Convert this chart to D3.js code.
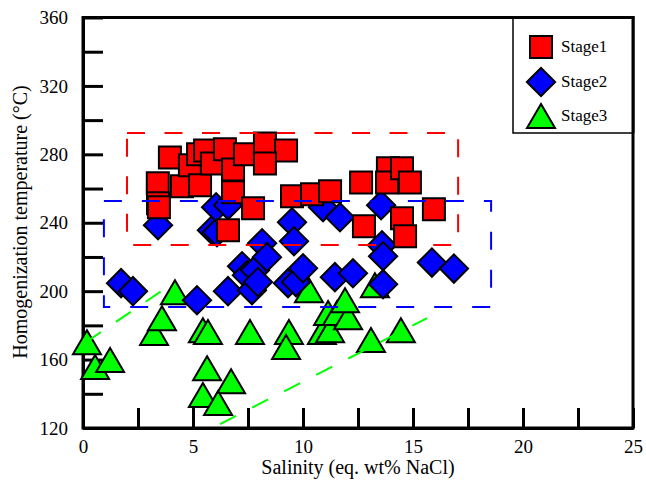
<!DOCTYPE html>
<html>
<head>
<meta charset="utf-8">
<script src="https://cdn.jsdelivr.net/npm/d3@7"></script>
<style>
  body { margin: 0; background: #fff; }
  svg text { font-family: "Times New Roman", "Liberation Serif", "DejaVu Serif", serif !important; fill: #000; }
</style>
</head>
<body>
<svg width="646" height="484"></svg>
<script>
// salinity (x) and homogenization temperature (y) for each stage
var stage1X = [3.40, 3.41, 3.45, 3.95, 4.50, 4.86, 5.23, 5.32, 5.55, 5.86, 6.45, 6.82, 6.82, 7.36, 7.73, 6.59,
               8.27, 9.23, 8.27, 9.50, 10.41, 11.23, 12.64, 13.86, 13.82, 14.50, 14.86, 15.95, 14.50, 14.64, 12.77];
var stage1Y = [263.1, 251.4, 249.0, 278.2, 261.3, 273.6, 280.0, 261.9, 282.2, 274.7, 282.9, 271.2, 257.8, 280.0, 248.5, 235.6,
               286.4, 282.3, 274.7, 255.5, 256.6, 258.4, 263.6, 271.8, 263.6, 271.8, 263.6, 247.9, 242.6, 232.1, 238.0];

var stage2X = [1.73, 2.27, 3.41, 5.18, 5.86, 6.09, 6.05, 6.59, 6.59, 7.23, 7.45, 7.82, 8.14, 7.68, 7.95, 8.36,
               9.50, 9.59, 9.32, 9.68, 10.00, 10.91, 11.68, 11.45, 12.27, 13.55, 13.59, 13.64, 13.64, 15.86, 16.86];
var stage2Y = [204.7, 200.0, 238.5, 194.7, 235.6, 234.5, 249.1, 250.3, 200.0, 214.6, 209.3, 212.3, 228.0, 200.6, 205.3, 219.9,
               240.3, 229.2, 204.7, 205.3, 213.4, 249.1, 243.2, 208.2, 210.5, 250.2, 226.8, 220.4, 204.1, 216.7, 213.2];

var stage3X = [0.18, 0.55, 1.23, 3.23, 3.59, 4.18, 5.45, 5.68, 7.59, 5.64, 6.73, 5.45, 6.14, 9.36, 9.23, 10.27,
               10.86, 11.23, 11.14, 11.55, 12.05, 11.91, 13.27, 13.09, 14.45];
var stage3Y = [170.2, 155.6, 159.7, 175.5, 184.2, 199.4, 177.2, 176.1, 176.1, 155.0, 147.4, 139.3, 134.6, 176.1, 167.3, 200.6,
               176.1, 177.2, 187.2, 187.2, 184.8, 194.7, 203.5, 171.4, 177.2];

// dashed fields
var box1 = [2.0, 17.05, 227, 292.5];     // x0, x1, y0, y1
var box2 = [0.95, 18.55, 190.8, 252.7];
var green1 = [[0.14, 170.2], [3.82, 202.3]];
var green2 = [[6.23, 122.3], [15.64, 184.2]];

var xTicks = [0, 2.5, 5, 7.5, 10, 12.5, 15, 17.5, 20, 22.5, 25];
var yTicks = [120, 140, 160, 180, 200, 220, 240, 260, 280, 300, 320, 340, 360];
var legendNames = ["Stage1", "Stage2", "Stage3"];

var serif = '"Times New Roman", "Liberation Serif", "DejaVu Serif", serif';
var svg = d3.select("svg");

var xScale = d3.scaleLinear().domain([0, 25]).range([83, 633]);
var yScale = d3.scaleLinear().domain([120, 360]).range([428, 17.5]);

// frame
svg.append("rect")
  .attr("x", 83).attr("y", 17.5)
  .attr("width", 550).attr("height", 410.5)
  .attr("fill", "none").attr("stroke", "#000").attr("stroke-width", 3);

// axes, ticks point inward
var xAxis = d3.axisBottom(xScale)
  .tickValues(xTicks)
  .tickSizeInner(-20).tickSizeOuter(0).tickPadding(12)
  .tickFormat(d => d % 5 == 0 ? d : "");
svg.append("g")
  .attr("transform", "translate(0,428)")
  .call(xAxis)
  .attr("font-family", serif)
  .call(g => g.select(".domain").attr("stroke-width", 3))
  .call(g => g.selectAll(".tick line").attr("stroke-width", 3))
  .call(g => g.selectAll("text").style("font-size", "19px"));

var yAxis = d3.axisLeft(yScale)
  .tickValues(yTicks)
  .tickSizeInner(-20).tickSizeOuter(0).tickPadding(15)
  .tickFormat(d => d % 40 == 0 ? d : "");
svg.append("g")
  .attr("transform", "translate(83,0)")
  .call(yAxis)
  .attr("font-family", serif)
  .call(g => g.select(".domain").attr("stroke-width", 3))
  .call(g => g.selectAll(".tick line").attr("stroke-width", 3))
  .call(g => g.selectAll("text").style("font-size", "19px"));

// axis titles
svg.append("text")
  .attr("x", 358).attr("y", 474)
  .attr("text-anchor", "middle")
  .attr("font-family", serif)
  .style("font-size", "20px")
  .text("Salinity (eq. wt% NaCl)");

svg.append("text")
  .attr("transform", "translate(27,222) rotate(-90)")
  .attr("text-anchor", "middle")
  .attr("font-family", serif)
  .style("font-size", "20px")
  .text("Homogenization temperature (°C)");

// marker shapes
var square = d3.symbol(d3.symbolSquare, 22 * 22)();
var diamond = d3.symbol(d3.symbolSquare, 20 * 20)();
var triangle = "M0,-12L14,12L-14,12Z";

function drawSeries(xs, ys, path, fill, rot) {
  svg.append("g")
    .selectAll("path")
    .data(xs.map((x, i) => ({ x: x, y: ys[i] })))
    .enter()
    .append("path")
    .attr("d", path)
    .attr("transform", d => `translate(${xScale(d.x)},${yScale(d.y)}) rotate(${rot})`)
    .attr("fill", fill)
    .attr("stroke", "#000")
    .attr("stroke-width", 2);
}

drawSeries(stage3X, stage3Y, triangle, "#00ff00", 0);
drawSeries(stage2X, stage2Y, diamond, "#0000ff", 45);
drawSeries(stage1X, stage1Y, square, "#ff0000", 0);

// dashed boxes and lines on top
function dashBox(b, color, dash) {
  svg.append("rect")
    .attr("x", xScale(b[0])).attr("y", yScale(b[3]))
    .attr("width", xScale(b[1]) - xScale(b[0]))
    .attr("height", yScale(b[2]) - yScale(b[3]))
    .attr("fill", "none").attr("stroke", color)
    .attr("stroke-width", 2).attr("stroke-dasharray", dash);
}
dashBox(box1, "#ff0000", "18,19.5");
dashBox(box2, "#0000ff", "18,20");

var line = d3.line().x(d => xScale(d[0])).y(d => yScale(d[1]));
[green1, green2].forEach(function (pts) {
  svg.append("path")
    .attr("d", line(pts))
    .attr("fill", "none").attr("stroke", "#00ff00")
    .attr("stroke-width", 2).attr("stroke-dasharray", "18,18");
});

// legend
svg.append("rect")
  .attr("x", 513).attr("y", 17.5)
  .attr("width", 120).attr("height", 115.5)
  .attr("fill", "#fff").attr("stroke", "#000").attr("stroke-width", 1.5);
svg.append("line")
  .attr("x1", 633).attr("x2", 633).attr("y1", 17.5).attr("y2", 133)
  .attr("stroke", "#000").attr("stroke-width", 3);
svg.append("line")
  .attr("x1", 513).attr("x2", 634.5).attr("y1", 17.5).attr("y2", 17.5)
  .attr("stroke", "#000").attr("stroke-width", 3);

var legendShapes = [[square, "#ff0000", 0], [diamond, "#0000ff", 45], [triangle, "#00ff00", 0]];
var legendY = [47, 82, 116];
var legend = svg.selectAll("g.legend")
  .data(legendNames)
  .enter()
  .append("g")
  .attr("class", "legend");

legend.append("path")
  .attr("d", (d, i) => legendShapes[i][0])
  .attr("transform", (d, i) => `translate(541,${legendY[i]}) rotate(${legendShapes[i][2]})`)
  .attr("fill", (d, i) => legendShapes[i][1])
  .attr("stroke", "#000").attr("stroke-width", 2);

legend.append("text")
  .attr("x", 561)
  .attr("y", (d, i) => legendY[i] + 5)
  .attr("font-family", serif)
  .style("font-size", "17px")
  .text(d => d);
</script>
</body>
</html>
